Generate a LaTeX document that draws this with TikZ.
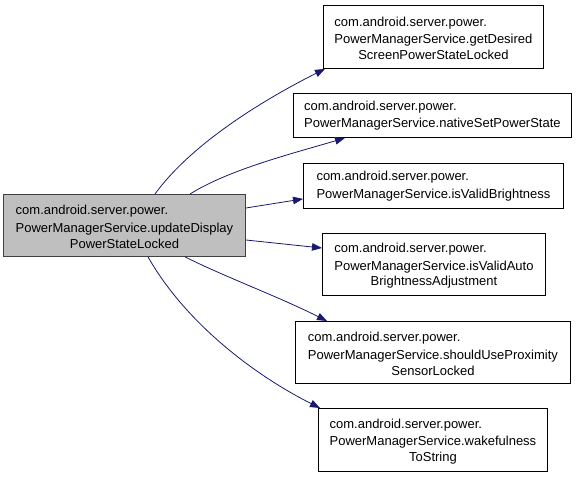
\documentclass[tikz,border=0pt]{standalone}
\usepackage{fontspec}
\setmainfont{Liberation Sans}
\usetikzlibrary{arrows.meta}
\definecolor{edgeblue}{HTML}{191970}
\newcommand{\threeline}[3]{\begin{tabular}{@{}l@{}}#1\\#2\end{tabular}\\#3}
\newcommand{\twoline}[2]{\begin{tabular}{@{}l@{}}#1\\#2\end{tabular}}
\tikzset{
  fn/.style={draw=black, line width=0.9pt, fill=white, align=center, font=\fontsize{13}{17.5}\selectfont, inner sep=0pt, anchor=north west},
  fnmain/.style={fn, draw=black!75, fill=black!25},
  call/.style={draw=edgeblue, line width=0.8pt, -{Triangle[length=10pt,width=7.5pt]}},
}
\begin{document}
\begin{tikzpicture}[x=1pt,y=-1pt]
\useasboundingbox (0,0) rectangle (579,477);
\node[fnmain, minimum width=242pt, minimum height=62pt] (L) at (3,194) {\threeline{com.android.server.power.}{PowerManagerService.updateDisplay}{PowerStateLocked}};
\node[fn, minimum width=220pt, minimum height=63pt] (A) at (323,5) {\threeline{com.android.server.power.}{PowerManagerService.getDesired}{ScreenPowerStateLocked}};
\node[fn, minimum width=278pt, minimum height=44pt] (B) at (293,93) {\twoline{com.android.server.power.}{PowerManagerService.nativeSetPowerState}};
\node[fn, minimum width=260pt, minimum height=45pt] (C) at (303,163) {\twoline{com.android.server.power.}{PowerManagerService.isValidBrightness}};
\node[fn, minimum width=223pt, minimum height=62pt] (D) at (322,233) {\threeline{com.android.server.power.}{PowerManagerService.isValidAuto}{BrightnessAdjustment}};
\node[fn, minimum width=275pt, minimum height=62pt] (E) at (295,321) {\threeline{com.android.server.power.}{PowerManagerService.shouldUseProximity}{SensorLocked}};
\node[fn, minimum width=229pt, minimum height=63pt] (F) at (318,408) {\threeline{com.android.server.power.}{PowerManagerService.wakefulness}{ToString}};

\draw[call] ([xshift=152pt]L.north west) .. controls +(40,-55) and +(-50,25) .. ([xshift=2pt]A.south west);
\draw[call] ([xshift=187pt]L.north west) .. controls +(40,-25) and +(-50,15) .. ([xshift=52pt]B.south west);
\draw[call] ([yshift=-14pt]L.north east) -- ([yshift=10pt]C.south west);
\draw[call] ([yshift=-46pt]L.north east) -- ([yshift=-15pt]D.north west);
\draw[call] ([xshift=182pt]L.south west) .. controls +(40,20) and +(-50,-25) .. ([xshift=32pt]E.north west);
\draw[call] ([xshift=145pt]L.south west) .. controls +(40,70) and +(-60,-30) .. ([xshift=2pt]F.north west);
\end{tikzpicture}
\end{document}
